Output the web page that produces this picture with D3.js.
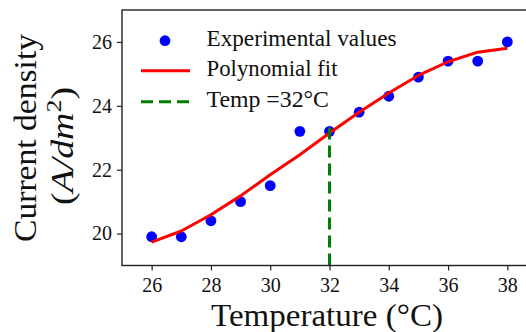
<!DOCTYPE html>
<html><head><meta charset="utf-8">
<script src="https://cdn.jsdelivr.net/npm/d3@7"></script>
<style>html,body{margin:0;padding:0;background:#fff;}svg{display:block;}</style>
</head><body>
<svg id="c" width="526" height="332"></svg>
<script>
const temps = [26,27,28,29,30,31,32,33,34,35,36,37,38];
const measured = [19.9,19.9,20.4,21.0,21.5,23.2,23.2,23.8,24.3,24.9,25.4,25.4,26.0];
const fitted = [19.73,20.08,20.59,21.18,21.84,22.47,23.15,23.8,24.4,24.95,25.38,25.68,25.8];
const markerTemp = 32;
const markerTop = 23.4;
const xTicks = [26,28,30,32,34,36,38];
const yTicks = [20,22,24,26];
const xDomain = [25,39];
const yDomain = [19,27];
const legendLabels = ["Experimental values","Polynomial fit","Temp =32°C"];

const FONT = "'Liberation Serif','Times New Roman',serif";
const svg = d3.select("#c");
const L=122, R=537, T=10, B=265.5;
const x = d3.scaleLinear().domain(xDomain).range([L,R]);
const y = d3.scaleLinear().domain(yDomain).range([B,T]);

// data
const g = svg.append("g");
g.selectAll("circle.pt").data(temps).join("circle")
  .attr("cx",d=>x(d)).attr("cy",(d,i)=>y(measured[i])).attr("r",5.4).attr("fill","#0000ff");
g.append("path").datum(temps)
  .attr("d",d3.line().x(d=>x(d)).y((d,i)=>y(fitted[i])))
  .attr("fill","none").attr("stroke","#ff0000").attr("stroke-width",3).attr("stroke-linejoin","round");
g.append("line").attr("x1",x(markerTemp)).attr("x2",x(markerTemp))
  .attr("y1",y(yDomain[0])).attr("y2",y(markerTop))
  .attr("stroke","#008000").attr("stroke-width",3).attr("stroke-dasharray","12,6");

// frame
svg.append("rect").attr("x",L).attr("y",T).attr("width",R-L).attr("height",B-T)
  .attr("fill","none").attr("stroke","#222").attr("stroke-width",1.4);

// axes
const xa = svg.append("g").attr("transform",`translate(0,${B})`)
  .call(d3.axisBottom(x).tickValues(xTicks).tickSize(5).tickPadding(4).tickFormat(d3.format("d")));
const ya = svg.append("g").attr("transform",`translate(${L},0)`)
  .call(d3.axisLeft(y).tickValues(yTicks).tickSize(5).tickPadding(5).tickFormat(d3.format("d")));
[xa,ya].forEach(a=>{
  a.select(".domain").remove();
  a.selectAll(".tick line").attr("stroke","#222").attr("stroke-width",1.2);
  a.selectAll(".tick text").attr("fill","#111").style("font-family",FONT).style("font-size","20px");
});
xa.selectAll(".tick text").attr("dy","0.85em");

// axis labels
svg.append("text").attr("x",327).attr("y",325.5).attr("text-anchor","middle")
  .style("font-family",FONT).style("font-size","31px").attr("fill","#111")
  .attr("textLength",232).attr("lengthAdjust","spacingAndGlyphs")
  .text("Temperature (°C)");
svg.append("text").attr("transform","translate(36,138) rotate(-90)").attr("text-anchor","middle")
  .style("font-family",FONT).style("font-size","32px").attr("fill","#111")
  .attr("textLength",208).attr("lengthAdjust","spacingAndGlyphs")
  .text("Current density");
const yl2 = svg.append("text").attr("transform","translate(73,146) rotate(-90)").attr("text-anchor","middle")
  .style("font-family",FONT).style("font-size","32px").attr("fill","#111")
  .attr("textLength",118).attr("lengthAdjust","spacingAndGlyphs");
yl2.append("tspan").text("(");
yl2.append("tspan").attr("font-style","italic").text("A/dm");
yl2.append("tspan").attr("font-size","22px").attr("dy","-12").text("2");
yl2.append("tspan").attr("dy","12").text(")");

// legend
const lg = svg.append("g");
const rowsY = [40.7,70.7,101.7];
lg.append("circle").attr("cx",165).attr("cy",rowsY[0]).attr("r",5.4).attr("fill","#0000ff");
lg.append("line").attr("x1",141).attr("x2",190).attr("y1",rowsY[1]).attr("y2",rowsY[1])
  .attr("stroke","#ff0000").attr("stroke-width",3);
lg.append("line").attr("x1",141).attr("x2",190).attr("y1",rowsY[2]).attr("y2",rowsY[2])
  .attr("stroke","#008000").attr("stroke-width",3).attr("stroke-dasharray","12,6");
const lw = [190,131,122.5];
legendLabels.forEach((t,i)=>{
  lg.append("text").attr("x",206.5).attr("y",rowsY[i]+5.5)
    .style("font-family",FONT).style("font-size","23px").attr("fill","#111")
    .attr("textLength",lw[i]).attr("lengthAdjust","spacingAndGlyphs").text(t);
});
</script>
</body></html>
